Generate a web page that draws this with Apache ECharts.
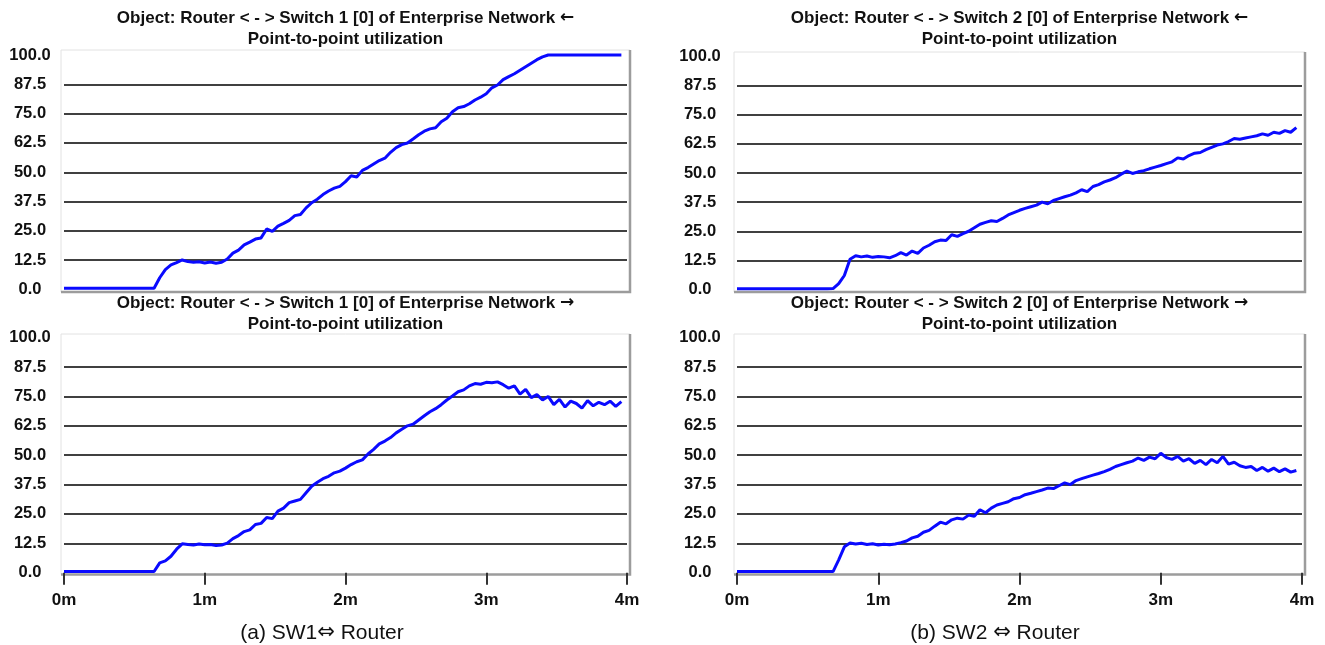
<!DOCTYPE html>
<html>
<head>
<meta charset="utf-8">
<title>Point-to-point utilization</title>
<script src="https://cdn.jsdelivr.net/npm/echarts@6/dist/echarts.min.js"></script>
<style>
html, body { margin: 0; padding: 0; background: #fff; }
#chart { width: 1325px; height: 645px; }
</style>
</head>
<body>
<div id="chart"></div>
<script>
"use strict";
/** Minutes between two samples of every trace */
const SAMPLE_STEP = 0.04;
/** Y axis: 0.0 .. 100.0 by 12.5 */
const yMin = 0, yMax = 100, yStep = 12.5;
/** X axis: 0m .. 4m */
const xMin = 0, xMax = 4, xStep = 1;

/** Router <-> Switch 1, incoming (top left) */
const sw1In = [
    0.5, 0.5, 0.5, 0.5, 0.5, 0.5, 0.5, 0.5, 0.5, 0.5,
    0.5, 0.5, 0.5, 0.5, 0.5, 0.5, 0.5, 5.0, 8.5, 10.5,
    11.5, 12.6, 11.9, 11.6, 11.8, 11.3, 11.7, 11.2, 11.6, 13.0,
    15.5, 16.8, 19.0, 20.2, 21.5, 22.0, 25.8, 24.8, 27.0, 28.2,
    29.5, 31.5, 32.0, 34.8, 37.0, 38.5, 40.5, 42.0, 43.2, 44.0,
    46.0, 48.5, 48.0, 50.8, 52.0, 53.5, 55.0, 56.0, 58.5, 60.5,
    61.8, 62.5, 64.2, 66.0, 67.5, 68.5, 69.0, 71.5, 73.0, 75.8,
    77.5, 78.0, 79.2, 80.8, 82.0, 83.5, 86.0, 87.2, 89.5, 90.8,
    92.0, 93.5, 95.0, 96.5, 98.0, 99.2, 100, 100, 100, 100,
    100, 100, 100, 100, 100, 100, 100, 100, 100, 100
];
/** Router <-> Switch 2, incoming (top right) */
const sw2In = [
    0.3, 0.3, 0.3, 0.3, 0.3, 0.3, 0.3, 0.3, 0.3, 0.3,
    0.3, 0.3, 0.3, 0.3, 0.3, 0.3, 0.3, 0.4, 2.5, 6.0,
    13.0, 14.5, 14.0, 14.4, 13.8, 14.2, 14.0, 13.6, 14.5, 15.8,
    14.8, 16.5, 15.5, 17.8, 19.0, 20.5, 21.2, 21.0, 23.5, 22.8,
    24.0, 25.0, 26.5, 28.0, 28.8, 29.5, 29.2, 30.5, 32.0, 33.0,
    34.0, 34.8, 35.5, 36.2, 37.5, 36.8, 38.2, 39.0, 39.8, 40.5,
    41.5, 42.8, 42.0, 44.2, 45.0, 46.2, 47.0, 48.0, 49.5, 50.8,
    49.8, 50.5, 51.0, 51.8, 52.5, 53.2, 54.0, 54.8, 56.5, 56.0,
    57.5, 58.5, 58.8, 60.0, 61.0, 62.0, 62.5, 63.5, 64.8, 64.5,
    65.0, 65.5, 66.0, 66.8, 66.2, 67.5, 67.0, 68.2, 67.5, 69.5
];
/** Router <-> Switch 1, outgoing (bottom left) */
const sw1Out = [
    0.5, 0.5, 0.5, 0.5, 0.5, 0.5, 0.5, 0.5, 0.5, 0.5,
    0.5, 0.5, 0.5, 0.5, 0.5, 0.5, 0.5, 4.2, 5.0, 7.0,
    10.0, 12.3, 12.0, 11.8, 12.2, 11.9, 12.0, 11.6, 11.8, 12.6,
    14.5, 15.8, 17.5, 18.2, 20.5, 21.0, 23.5, 23.0, 26.2, 27.5,
    29.8, 30.5, 31.2, 34.0, 36.8, 38.5, 40.0, 41.0, 42.5, 43.2,
    44.5, 46.0, 47.2, 48.0, 50.5, 52.5, 54.8, 56.0, 57.5, 59.5,
    61.0, 62.5, 63.2, 65.0, 66.8, 68.5, 69.8, 71.5, 73.5, 75.2,
    77.0, 77.8, 79.5, 80.5, 80.2, 81.0, 80.8, 81.2, 80.0, 78.5,
    79.5, 76.0, 78.0, 74.5, 75.8, 73.5, 75.0, 71.5, 73.8, 70.5,
    73.0, 72.0, 70.0, 73.2, 71.0, 72.5, 71.5, 73.0, 70.8, 72.8
];
/** Router <-> Switch 2, outgoing (bottom right) */
const sw2Out = [
    0.5, 0.5, 0.5, 0.5, 0.5, 0.5, 0.5, 0.5, 0.5, 0.5,
    0.5, 0.5, 0.5, 0.5, 0.5, 0.5, 0.5, 0.5, 5.5, 11.0,
    12.6, 12.2, 12.5, 12.0, 12.3, 11.8, 12.1, 11.9, 12.2, 12.8,
    13.5, 14.8, 15.5, 17.2, 18.0, 19.8, 21.5, 20.8, 22.5, 23.2,
    22.8, 24.5, 24.0, 26.8, 25.5, 27.5, 28.8, 29.5, 30.2, 31.5,
    32.0, 33.2, 33.8, 34.5, 35.2, 36.0, 35.8, 37.0, 38.2, 37.5,
    39.2, 40.0, 40.8, 41.5, 42.2, 43.0, 44.0, 45.2, 46.0, 46.8,
    47.5, 48.8, 47.8, 49.2, 48.5, 50.8, 49.0, 48.2, 49.5, 47.5,
    48.5, 46.5, 47.8, 46.0, 48.2, 46.8, 49.5, 46.2, 47.0, 45.5,
    44.8, 45.2, 43.5, 44.8, 43.2, 44.5, 43.0, 44.2, 42.8, 43.5
];

/** {a|...} marks the arrow glyphs, drawn in a font with larger arrows */
const panelTitles = [
    "Object: Router < - > Switch 1 [0] of Enterprise Network {a|←}",
    "Object: Router < - > Switch 2 [0] of Enterprise Network {a|←}",
    "Object: Router < - > Switch 1 [0] of Enterprise Network {a|→}",
    "Object: Router < - > Switch 2 [0] of Enterprise Network {a|→}"
];
const panelSubTitle = "Point-to-point utilization";
const captions = ["(a) SW1{a|⇔} Router", "(b) SW2 {a|⇔} Router"];

/* ============= layout of the four panels (TL, TR, BL, BR) =================== */
const panelSeries = [sw1In, sw2In, sw1Out, sw2Out];
const panels = [
    { left: 64, top: 55, width: 563, height: 234.5, frame: [61, 50, 630, 292], labelMargin: 34, labelLift: 5, titleY: 18, withTicks: false },
    { left: 737, top: 56.5, width: 565, height: 233, frame: [734, 52, 1305, 292], labelMargin: 37, labelLift: 11, titleY: 18, withTicks: false },
    { left: 64, top: 337.7, width: 563, height: 235, frame: [61, 334, 630, 574.5], labelMargin: 34, labelLift: 10, titleY: 303, withTicks: true },
    { left: 737, top: 337.7, width: 565, height: 235, frame: [734, 334, 1305, 574.5], labelMargin: 37, labelLift: 10, titleY: 303, withTicks: true }
];
const captionPos = [[322, 633], [995, 633]];

const FONT_FAMILY = '"Liberation Sans", Arial, sans-serif';
const ARROW_FAMILY = '"DejaVu Sans", sans-serif';
const boldFont = (size) => `bold ${size}px ${FONT_FAMILY}`;

function TextElement(x, y, text, font, arrowFont) {
    return {
        type: "text", x: x, y: y, z: 10,
        style: {
            text: text, font: font, fill: "#111",
            align: "center", verticalAlign: "middle",
            textAlign: "center", textVerticalAlign: "middle",
            rich: { a: { font: arrowFont, fill: "#111" } }
        }
    };
}

let grids = [], xAxes = [], yAxes = [], series = [], graphics = [];
panels.forEach((p, i) => {
    grids.push({ left: p.left, top: p.top, width: p.width, height: p.height });
    xAxes.push({
        type: "value", gridIndex: i, min: xMin, max: xMax, interval: xStep,
        offset: 5,
        axisLine: { show: false },
        splitLine: { show: false },
        axisTick: { show: p.withTicks, length: 12, lineStyle: { color: "#333", width: 2 } },
        axisLabel: {
            show: p.withTicks, margin: 14, color: "#111",
            fontSize: 17, fontWeight: "bold", fontFamily: FONT_FAMILY,
            formatter: (v) => v + "m"
        }
    });
    yAxes.push({
        type: "value", gridIndex: i, min: yMin, max: yMax, interval: yStep,
        axisLine: { show: false },
        axisTick: { show: false },
        splitLine: { show: true, showMinLine: false, showMaxLine: false, lineStyle: { color: "#404040", width: 2 } },
        axisLabel: {
            margin: p.labelMargin, align: "center", padding: [0, 0, p.labelLift, 0],
            color: "#111", fontSize: 16.5, fontWeight: "bold", fontFamily: FONT_FAMILY,
            formatter: (v) => v.toFixed(1)
        }
    });
    series.push({
        type: "line", xAxisIndex: i, yAxisIndex: i,
        symbol: "none", clip: false, z: 5,
        lineStyle: { color: "#0a0aff", width: 3 },
        data: panelSeries[i].map((v, k) => [k * SAMPLE_STEP, v])
    });
    // plot frame: faint top/left, grey right/bottom
    const [x1, y1, x2, y2] = p.frame;
    graphics.push({
        type: "rect", z: 0,
        shape: { x: x1, y: y1, width: x2 - x1, height: y2 - y1 },
        style: { fill: null, stroke: "#e2e2e2", lineWidth: 1 }
    });
    graphics.push({
        type: "polyline", z: 0,
        shape: { points: [[x2, y1], [x2, y2], [x1, y2]] },
        style: { fill: null, stroke: "#9c9c9c", lineWidth: 2.5 }
    });
    const cx = p.left + p.width / 2;
    graphics.push(TextElement(cx, p.titleY, panelTitles[i], boldFont(17), `bold 17px ${ARROW_FAMILY}`));
    graphics.push(TextElement(cx, p.titleY + 21, panelSubTitle, boldFont(17), `bold 17px ${ARROW_FAMILY}`));
});
captions.forEach((c, i) => {
    graphics.push(TextElement(captionPos[i][0], captionPos[i][1], c, `21px ${FONT_FAMILY}`, `21px ${ARROW_FAMILY}`));
});

let chart = echarts.init(document.getElementById("chart"));
chart.setOption({
    animation: false,
    backgroundColor: "#fff",
    grid: grids,
    xAxis: xAxes,
    yAxis: yAxes,
    series: series,
    graphic: graphics
});
</script>
</body>
</html>
